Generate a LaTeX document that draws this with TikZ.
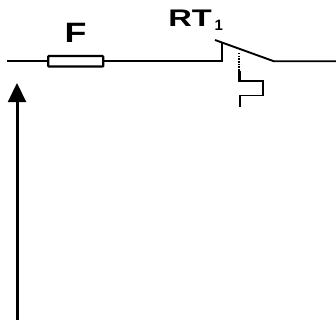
\documentclass[tikz,border=0pt]{standalone}
\usepackage{fontspec}
\setmainfont{Liberation Sans}
\usetikzlibrary{arrows.meta}
\tikzset{
  wire/.style={line width=1.9pt},
  lbl/.style={inner sep=0pt, font=\fontsize{28}{30}\selectfont\bfseries},
  fuse/.style={draw, line width=2.2pt, rounded corners=0.8pt, minimum width=55pt, minimum height=10.5pt, inner sep=0pt, outer sep=0pt},
}
\begin{document}
\begin{tikzpicture}[x=1pt,y=-1pt]
\useasboundingbox (0,0) rectangle (336,334);
\node[fuse] (fuse) at (75.7,61.3) {};
\coordinate (inL) at (7,61.3);
\coordinate (post) at (221.8,61.3);
\coordinate (postT) at (221.8,42);
\coordinate (bladeS) at (215,40);
\coordinate (bladeE) at (274,61.3);
\coordinate (out) at (336,61.3);
\coordinate (d1) at (239.3,53);
\coordinate (d2) at (239.3,71);
\coordinate (s0) at (239.3,81.5);
\coordinate (s1) at (239.3,81);
\coordinate (s2) at (262.8,81);
\coordinate (s3) at (262.8,95.5);
\coordinate (s4) at (240,95.5);
\coordinate (s5) at (240,107);
\coordinate (aT) at (17,83);
\coordinate (aB) at (17,320);
\draw[wire] (inL) -- (fuse.west);
\draw[wire] (fuse.east) -- (post) -- (postT);
\draw[wire] (bladeS) -- (bladeE) -- (out);
\draw[line width=2pt, dash pattern=on 1.5pt off 1.2pt] (d1) -- (d2);
\draw[line width=3pt] (d2) -- (s0);
\draw[line width=1.9pt] (s1) -- (s2) -- (s3) -- (s4) -- (s5);
\draw[line width=3pt, -{Triangle[length=19pt,width=18.5pt,line width=0pt]}] (aB) -- (aT);
\node[lbl, xscale=1.28] (F) at (75.5,33) {F};
\node[lbl, xscale=1.36, anchor=base west, font=\fontsize{24}{26}\selectfont\bfseries] (RT) at (168,26.5) {RT};
\node[inner sep=0pt, anchor=base west, font=\fontsize{15}{15}\selectfont\bfseries] (sub) at (214.5,31) {1};
\end{tikzpicture}
\end{document}
